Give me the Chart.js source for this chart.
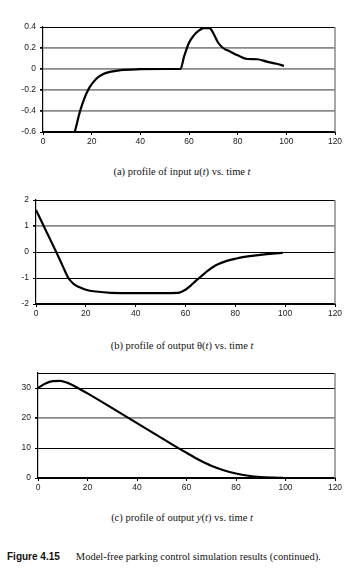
<!DOCTYPE html>
<html>
<head>
<meta charset="utf-8">
<script src="https://cdn.jsdelivr.net/npm/chart.js@4.4.1/dist/chart.umd.min.js"></script>
<style>
  html, body { margin: 0; padding: 0; background: #fff; }
  body { width: 354px; height: 574px; position: relative; overflow: hidden; }
  .box { position: absolute; left: 0; width: 354px; }
  .cap { position: absolute; left: 0; width: 364px; text-align: center;
         font-family: "Liberation Serif", "Times New Roman", serif; font-size: 10.5px; color: #111; }
  .fig { position: absolute; left: 7px; top: 551px; white-space: nowrap;
         font-family: "Liberation Serif", serif; font-size: 10.5px; color: #111; }
  .fig b { font-family: "Liberation Sans Narrow", "Liberation Sans", Arial, sans-serif;
           font-size: 10px; margin-right: 16px; }
</style>
</head>
<body>
<div class="box" style="top:17px;height:135px"><canvas id="chartA"></canvas></div>
<div class="cap" style="top:166px">(a) profile of input <i>u</i>(<i>t</i>) vs. time <i>t</i></div>
<div class="box" style="top:190px;height:134px"><canvas id="chartB"></canvas></div>
<div class="cap" style="top:340px">(b) profile of output θ(<i>t</i>) vs. time <i>t</i></div>
<div class="box" style="top:363px;height:135px"><canvas id="chartC"></canvas></div>
<div class="cap" style="top:512px">(c) profile of output <i>y</i>(<i>t</i>) vs. time <i>t</i></div>
<div class="fig"><b>Figure 4.15</b>Model-free parking control simulation results (continued).</div>

<script>
// time axis shared by all three panels
const xTicks = [0, 20, 40, 60, 80, 100, 120];

// (a) input u(t)
const tA = [0, 5, 10, 13, 15, 17, 19, 22, 25, 28, 32, 40, 50, 56.5, 58, 60, 62, 64, 66, 68.5, 70, 72, 74, 77, 80, 84, 88, 92, 96, 99];
const uA = [-1.0, -0.9, -0.75, -0.6, -0.42, -0.28, -0.18, -0.09, -0.045, -0.025, -0.01, -0.002, 0, 0, 0.12, 0.25, 0.32, 0.365, 0.39, 0.39, 0.34, 0.25, 0.2, 0.165, 0.13, 0.095, 0.093, 0.07, 0.05, 0.03];
const yTicksA = [-0.6, -0.4, -0.2, 0, 0.2, 0.4];

// (b) output theta(t)
const tB = [0, 4, 8.3, 11, 13, 15, 17, 20, 24, 30, 40, 50, 57, 60, 62, 64, 66.5, 69, 72, 76, 80, 85, 90, 95, 99];
const thetaB = [1.62, 0.82, -0.04, -0.6, -1.0, -1.22, -1.34, -1.45, -1.52, -1.57, -1.58, -1.58, -1.57, -1.45, -1.3, -1.12, -0.92, -0.72, -0.52, -0.36, -0.26, -0.17, -0.11, -0.06, -0.03];
const yTicksB = [-2, -1, 0, 1, 2];

// (c) output y(t)
const tC = [0, 3, 6, 9, 12, 15, 17, 20, 30, 40, 50, 55, 60, 65, 70, 75, 80, 85, 90, 95, 99];
const yC = [30, 31.5, 32.3, 32.4, 31.7, 30.5, 29.6, 28.2, 23.3, 18.3, 13.3, 10.8, 8.4, 6.1, 4.1, 2.6, 1.5, 0.75, 0.3, 0.1, 0.02];
const yTicksC = [0, 10, 20, 30];

const tickFont = { family: '"Liberation Sans", Arial, sans-serif', size: 8.5 };

// draws the top and right edge of the plot box
const framePlugin = {
    id: 'frame',
    beforeDatasetsDraw(chart) {
        const { ctx, chartArea: a } = chart;
        ctx.save();
        ctx.lineWidth = 1;
        ctx.strokeStyle = '#000';
        ctx.beginPath();
        ctx.moveTo(a.left, Math.round(a.top) + 0.5);
        ctx.lineTo(a.right, Math.round(a.top) + 0.5);
        ctx.stroke();
        ctx.strokeStyle = '#8a8a8a';
        ctx.lineWidth = 1.5;
        ctx.beginPath();
        ctx.moveTo(a.right, a.top);
        ctx.lineTo(a.right, a.bottom);
        ctx.stroke();
        ctx.restore();
    }
};

function makeChart(id, xs, ys, yMin, yMax, yTicks, yWidth, grayLines) {
    const points = xs.map((x, i) => ({ x: x, y: ys[i] }));
    new Chart(document.getElementById(id), {
        type: 'scatter',
        data: {
            datasets: [{
                data: points,
                showLine: true,
                borderColor: '#000',
                borderWidth: 2.2,
                pointRadius: 0,
                cubicInterpolationMode: 'monotone'
            }]
        },
        options: {
            responsive: true,
            maintainAspectRatio: false,
            animation: false,
            events: [],
            layout: { padding: { top: 10, right: 19, left: 0, bottom: 0 } },
            plugins: { legend: { display: false }, tooltip: { enabled: false } },
            scales: {
                x: {
                    type: 'linear',
                    min: 0, max: 120,
                    afterBuildTicks: s => { s.ticks = xTicks.map(v => ({ value: v })); },
                    afterFit: s => { s.height = 20; },
                    border: { display: true, color: '#000', width: 1.2 },
                    grid: { drawOnChartArea: false, drawTicks: true, tickLength: 3, tickColor: '#000' },
                    ticks: { font: tickFont, color: '#1a1a1a', padding: 2, maxRotation: 0 }
                },
                y: {
                    min: yMin, max: yMax,
                    afterBuildTicks: s => { s.ticks = yTicks.map(v => ({ value: v })); },
                    afterFit: s => { s.width = yWidth; },
                    border: { display: true, color: '#000', width: 1.2 },
                    grid: {
                        tickLength: 3,
                        tickColor: '#000',
                        color: c => grayLines.includes(c.tick.value) ? '#8a8a8a' : '#000',
                        lineWidth: c => grayLines.includes(c.tick.value) ? 1.8 : 1
                    },
                    ticks: { font: tickFont, color: '#1a1a1a', padding: 4, callback: v => String(+v.toFixed(1)) }
                }
            }
        },
        plugins: [framePlugin]
    });
}

makeChart('chartA', tA, uA, -0.6, 0.4, yTicksA, 43, [0.2, 0, -0.2, -0.4]);
makeChart('chartB', tB, thetaB, -2, 2, yTicksB, 36, [1]);
makeChart('chartC', tC, yC, 0, 35, yTicksC, 38, [20]);
</script>
</body>
</html>
